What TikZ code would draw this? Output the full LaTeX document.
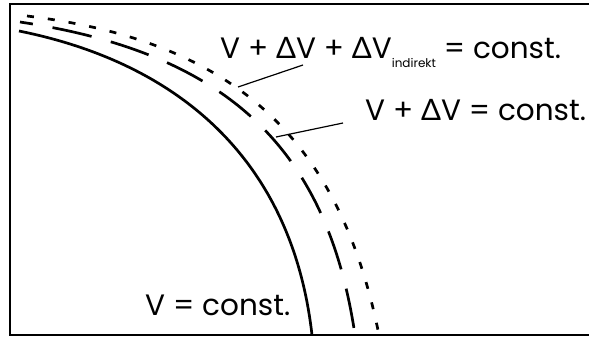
\documentclass[tikz,border=0pt]{standalone}
\usepackage{fontspec}
\setmainfont{Poppins}
\newfontfamily\deltafont{Lato}
\newcommand{\dV}{{\deltafont Δ}V}
\newcommand{\indsub}{{\fontsize{12}{12}\selectfont\raisebox{-9pt}{indirekt}}}

\begin{document}
\begin{tikzpicture}[x=1pt, y=-1pt,
    frame/.style={line width=2.4pt},
    equi/.style={line width=2.7pt},
    lbl/.style={font=\fontsize{29.5}{30}\selectfont, inner sep=0pt, anchor=base west},
    lead/.style={line width=1.2pt},
  ]
  \useasboundingbox (0,0) rectangle (589,338);
  \draw[frame] (589,4) -- (10,4) -- (10,335) -- (589,335);

  % equipotential lines
  \draw[equi] (19,31) .. controls (178,63) and (292,159) .. (312,335);
  \draw[equi, dash pattern=on 40pt off 20pt, dash phase=27pt]
    (20,22) .. controls (226,53) and (327,147) .. (355,335);
  \draw[equi, dash pattern=on 7pt off 14pt]
    (27,16) .. controls (233,41) and (339,137) .. (379,335);

  \node[lbl] (vind) at (220,58) {V + \dV{} + \dV\indsub{} = const.};
  \node[lbl] (vdv) at (365,120) {V + \dV{} = const.};
  \node[lbl] (v) at (145,315) {V = const.};

  \coordinate (s1) at (303,65);
  \coordinate (e1) at (238,87);
  \coordinate (s2) at (343,123);
  \coordinate (e2) at (276,137);
  \draw[lead] (s1) -- (e1);
  \draw[lead] (s2) -- (e2);
\end{tikzpicture}
\end{document}
